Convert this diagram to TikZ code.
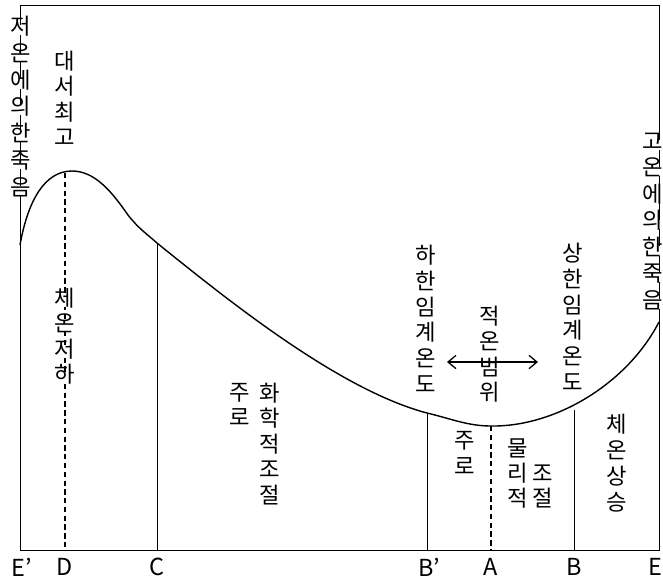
\documentclass[tikz,border=0pt]{standalone}
\usepackage{fontspec}
\setmainfont{Noto Sans CJK KR}
\usetikzlibrary{arrows.meta}

\tikzset{
  letra/.style={font=\fontsize{19}{22}\selectfont, inner sep=0pt,
    text height=0.8em, text depth=0.04em},
  letraf/.style={letra, fill=white},
  etiqueta/.style={font=\fontsize{20}{23}\selectfont, inner sep=0pt},
  marco/.style={line width=0.7pt},
  curva/.style={line width=1.2pt},
  punteada/.style={line width=2pt, dash pattern=on 4.5pt off 3pt},
  flecha/.style={{Straight Barb[length=2.4mm,width=4mm]}-{Straight Barb[length=2.4mm,width=4mm]},
    line width=1.1pt}
}

\begin{document}
\begin{tikzpicture}[x=0.03cm, y=-0.03cm]
  \useasboundingbox (0,0) rectangle (663,579);
  % marco
  \coordinate (esqI) at (20,5);
  \coordinate (esqD) at (659,5);
  \coordinate (bE') at (20,550);
  \coordinate (bE) at (659,550);
  \draw[marco] (bE') -- (esqI) -- (esqD) -- (bE) -- cycle;

  % curva
  \coordinate (pE') at (20,245);
  \coordinate (pD) at (65,173);
  \coordinate (pC) at (157,243);
  \coordinate (pB') at (427,413);
  \coordinate (pA) at (491,426);
  \coordinate (pB) at (574,410);
  \coordinate (pE) at (659,322);
  \draw[curva] (pE') .. controls (28,200) and (45,171) .. (72,171)
    .. controls (95,171) and (112,192) .. (128,215)
    .. controls (138,228) and (148,235) .. (pC)
    .. controls (230,302) and (340,390) .. (pB')
    .. controls (452,419) and (468,426) .. (pA)
    .. controls (555,427) and (627,384) .. (pE);

  % lineas verticales
  \coordinate (bD) at (65,550);
  \coordinate (bC) at (157,550);
  \coordinate (bB') at (427,550);
  \coordinate (bA) at (491,550);
  \coordinate (bB) at (574,550);
  \draw[marco] (pC) -- (bC);
  \draw[marco] (pB') -- (bB');
  \draw[marco] (pB) -- (bB);
  \draw[punteada] (pD) -- (bD);
  \draw[punteada] (pA) -- (bA);

  % textos verticales
  \foreach \c [count=\i from 0] in {저,온,에,의,한,죽,음}
    \node[letraf] (izq\i) at (21, 30+26.8*\i) {\c};
  \foreach \c [count=\i from 0] in {고,온,에,의,한,죽,음}
    \node[letraf] (der\i) at (653, 145+26.5*\i) {\c};
  \foreach \c [count=\i from 0] in {대,서,최,고}
    \node[letra] (max\i) at (65, 65+25.5*\i) {\c};
  \foreach \c [count=\i from 0] in {체,온,저,하}
    \node[letraf] (baja\i) at (65, 302+25.3*\i) {\c};
  \foreach \c [count=\i from 0] in {하,한,임,계,온,도}
    \node[letra] (inf\i) at (426, 259+25.8*\i) {\c};
  \foreach \c [count=\i from 0] in {상,한,임,계,온,도}
    \node[letra] (sup\i) at (573, 257+25.8*\i) {\c};
  \foreach \c [count=\i from 0] in {적,온,범,위}
    \node[letra] (rango\i) at (490, 320+25.5*\i) {\c};
  \foreach \c [count=\i from 0] in {주,로}
    \node[letra] (qui\i) at (240, 396+25*\i) {\c};
  \foreach \c [count=\i from 0] in {화,학,적,조,절}
    \node[letra] (quim\i) at (270, 397+25.5*\i) {\c};
  \foreach \c [count=\i from 0] in {주,로}
    \node[letra] (fis\i) at (465, 444+26*\i) {\c};
  \foreach \c [count=\i from 0] in {물,리,적}
    \node[letra] (fisa\i) at (518, 452+25*\i) {\c};
  \foreach \c [count=\i from 0] in {조,절}
    \node[letra] (fisb\i) at (543, 477+25*\i) {\c};
  \foreach \c [count=\i from 0] in {체,온,상,승}
    \node[letra] (sube\i) at (617, 428+26*\i) {\c};

  % flecha del rango
  \coordinate (rangoI) at (447,362);
  \coordinate (rangoD) at (538,362);
  \draw[flecha] (rangoI) -- (rangoD);

  % etiquetas del eje
  \node[etiqueta] (lE') at (22,567) {E'};
  \node[etiqueta] (lD) at (65,567) {D};
  \node[etiqueta] (lC) at (157,567) {C};
  \node[etiqueta] (lB') at (429,567) {B'};
  \node[etiqueta] (lA) at (491,567) {A};
  \node[etiqueta] (lB) at (574,567) {B};
  \node[etiqueta] (lE) at (655,567) {E};
\end{tikzpicture}
\end{document}
